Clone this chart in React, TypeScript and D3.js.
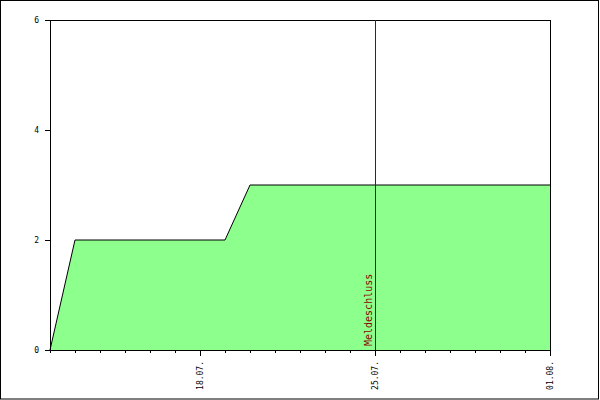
import React from "react";
import * as d3 from "d3";

const dates = ["2013-07-12", "2013-07-13", "2013-07-19", "2013-07-20", "2013-08-01"];
const values = [0, 2, 2, 3, 3];
const yTicks = [0, 2, 4, 6];
const majorTickDates = ["2013-07-18", "2013-07-25", "2013-08-01"];
const markerDate = "2013-07-25";
const markerLabel = "Meldeschluss";
const domainDates = ["2013-07-12", "2013-08-01"];

const W = 600, H = 400;
const M = { left: 50, right: 50, top: 20, bottom: 50 };

export default function App() {
  const parse = (s: string) => new Date(s + "T00:00:00Z");
  const x = d3.scaleUtc().domain(domainDates.map(parse)).range([M.left, W - M.right]);
  const y = d3.scaleLinear().domain([0, 6]).range([H - M.bottom, M.top]);
  const fmt = d3.utcFormat("%d.%m.");
  const data = dates.map((d, i) => ({ d: parse(d), v: values[i] }));
  const area = d3.area<any>().x((p) => x(p.d)).y0(y(0)).y1((p) => y(p.v));
  const line = d3.line<any>().x((p) => x(p.d)).y((p) => y(p.v));
  const days = d3.utcDay.range(parse(domainDates[0]), d3.utcDay.offset(parse(domainDates[1]), 1));
  const majors = majorTickDates.map(parse);
  const mx = x(parse(markerDate));
  const font = "'DejaVu Sans Mono', monospace";
  const x0 = M.left, x1 = W - M.right, yb = H - M.bottom, yt = M.top;
  return (
    <svg width={W} height={H} style={{ position: "absolute", left: 0, top: 0, background: "#fff" }}>
      <rect x={0.5} y={0.5} width={598} height={398.5} fill="#fff" stroke="#000" strokeWidth={1} />
      <path d={area(data) || ""} fill="#8CFF8C" />
      <path d={line(data) || ""} fill="none" stroke="#000" strokeWidth={1} />
      <g shapeRendering="crispEdges" stroke="#000">
        <line x1={x0} x2={x1} y1={yt + 0.5} y2={yt + 0.5} />
        <line x1={x0} x2={x1} y1={yb + 0.5} y2={yb + 0.5} />
        <line x1={x0 + 0.5} x2={x0 + 0.5} y1={yt} y2={yb} />
        <line x1={x1 + 0.5} x2={x1 + 0.5} y1={yt} y2={yb} />
        {yTicks.map((t) => (
          <line key={t} x1={x0 - 5} x2={x0} y1={y(t) + 0.5} y2={y(t) + 0.5} />
        ))}
        {days.map((d, i) => {
          const isMajor = majors.some((m) => +m === +d);
          return (
            <line key={i} x1={x(d) + 0.5} x2={x(d) + 0.5} y1={yb} y2={yb + (isMajor ? 6 : 3)} />
          );
        })}
      </g>
      <line x1={mx + 0.5} x2={mx + 0.5} y1={yt} y2={yb} stroke="#8B0000" shapeRendering="crispEdges" />
      <text
        transform={`translate(${mx - 3},${yb - 4}) rotate(-90)`}
        fontFamily={font}
        fontSize={10}
        fill="#8B0000"
      >
        {markerLabel}
      </text>
      {yTicks.map((t) => (
        <text key={t} x={x0 - 11} y={y(t) + 3} textAnchor="end" fontFamily={font} fontSize={8} fill="#000">
          {t}
        </text>
      ))}
      {majors.map((d, i) => (
        <text
          key={i}
          transform={`translate(${x(d) + 3},${yb + 11}) rotate(-90)`}
          textAnchor="end"
          fontFamily={font}
          fontSize={8}
          fill="#000"
        >
          {fmt(d)}
        </text>
      ))}
    </svg>
  );
}
